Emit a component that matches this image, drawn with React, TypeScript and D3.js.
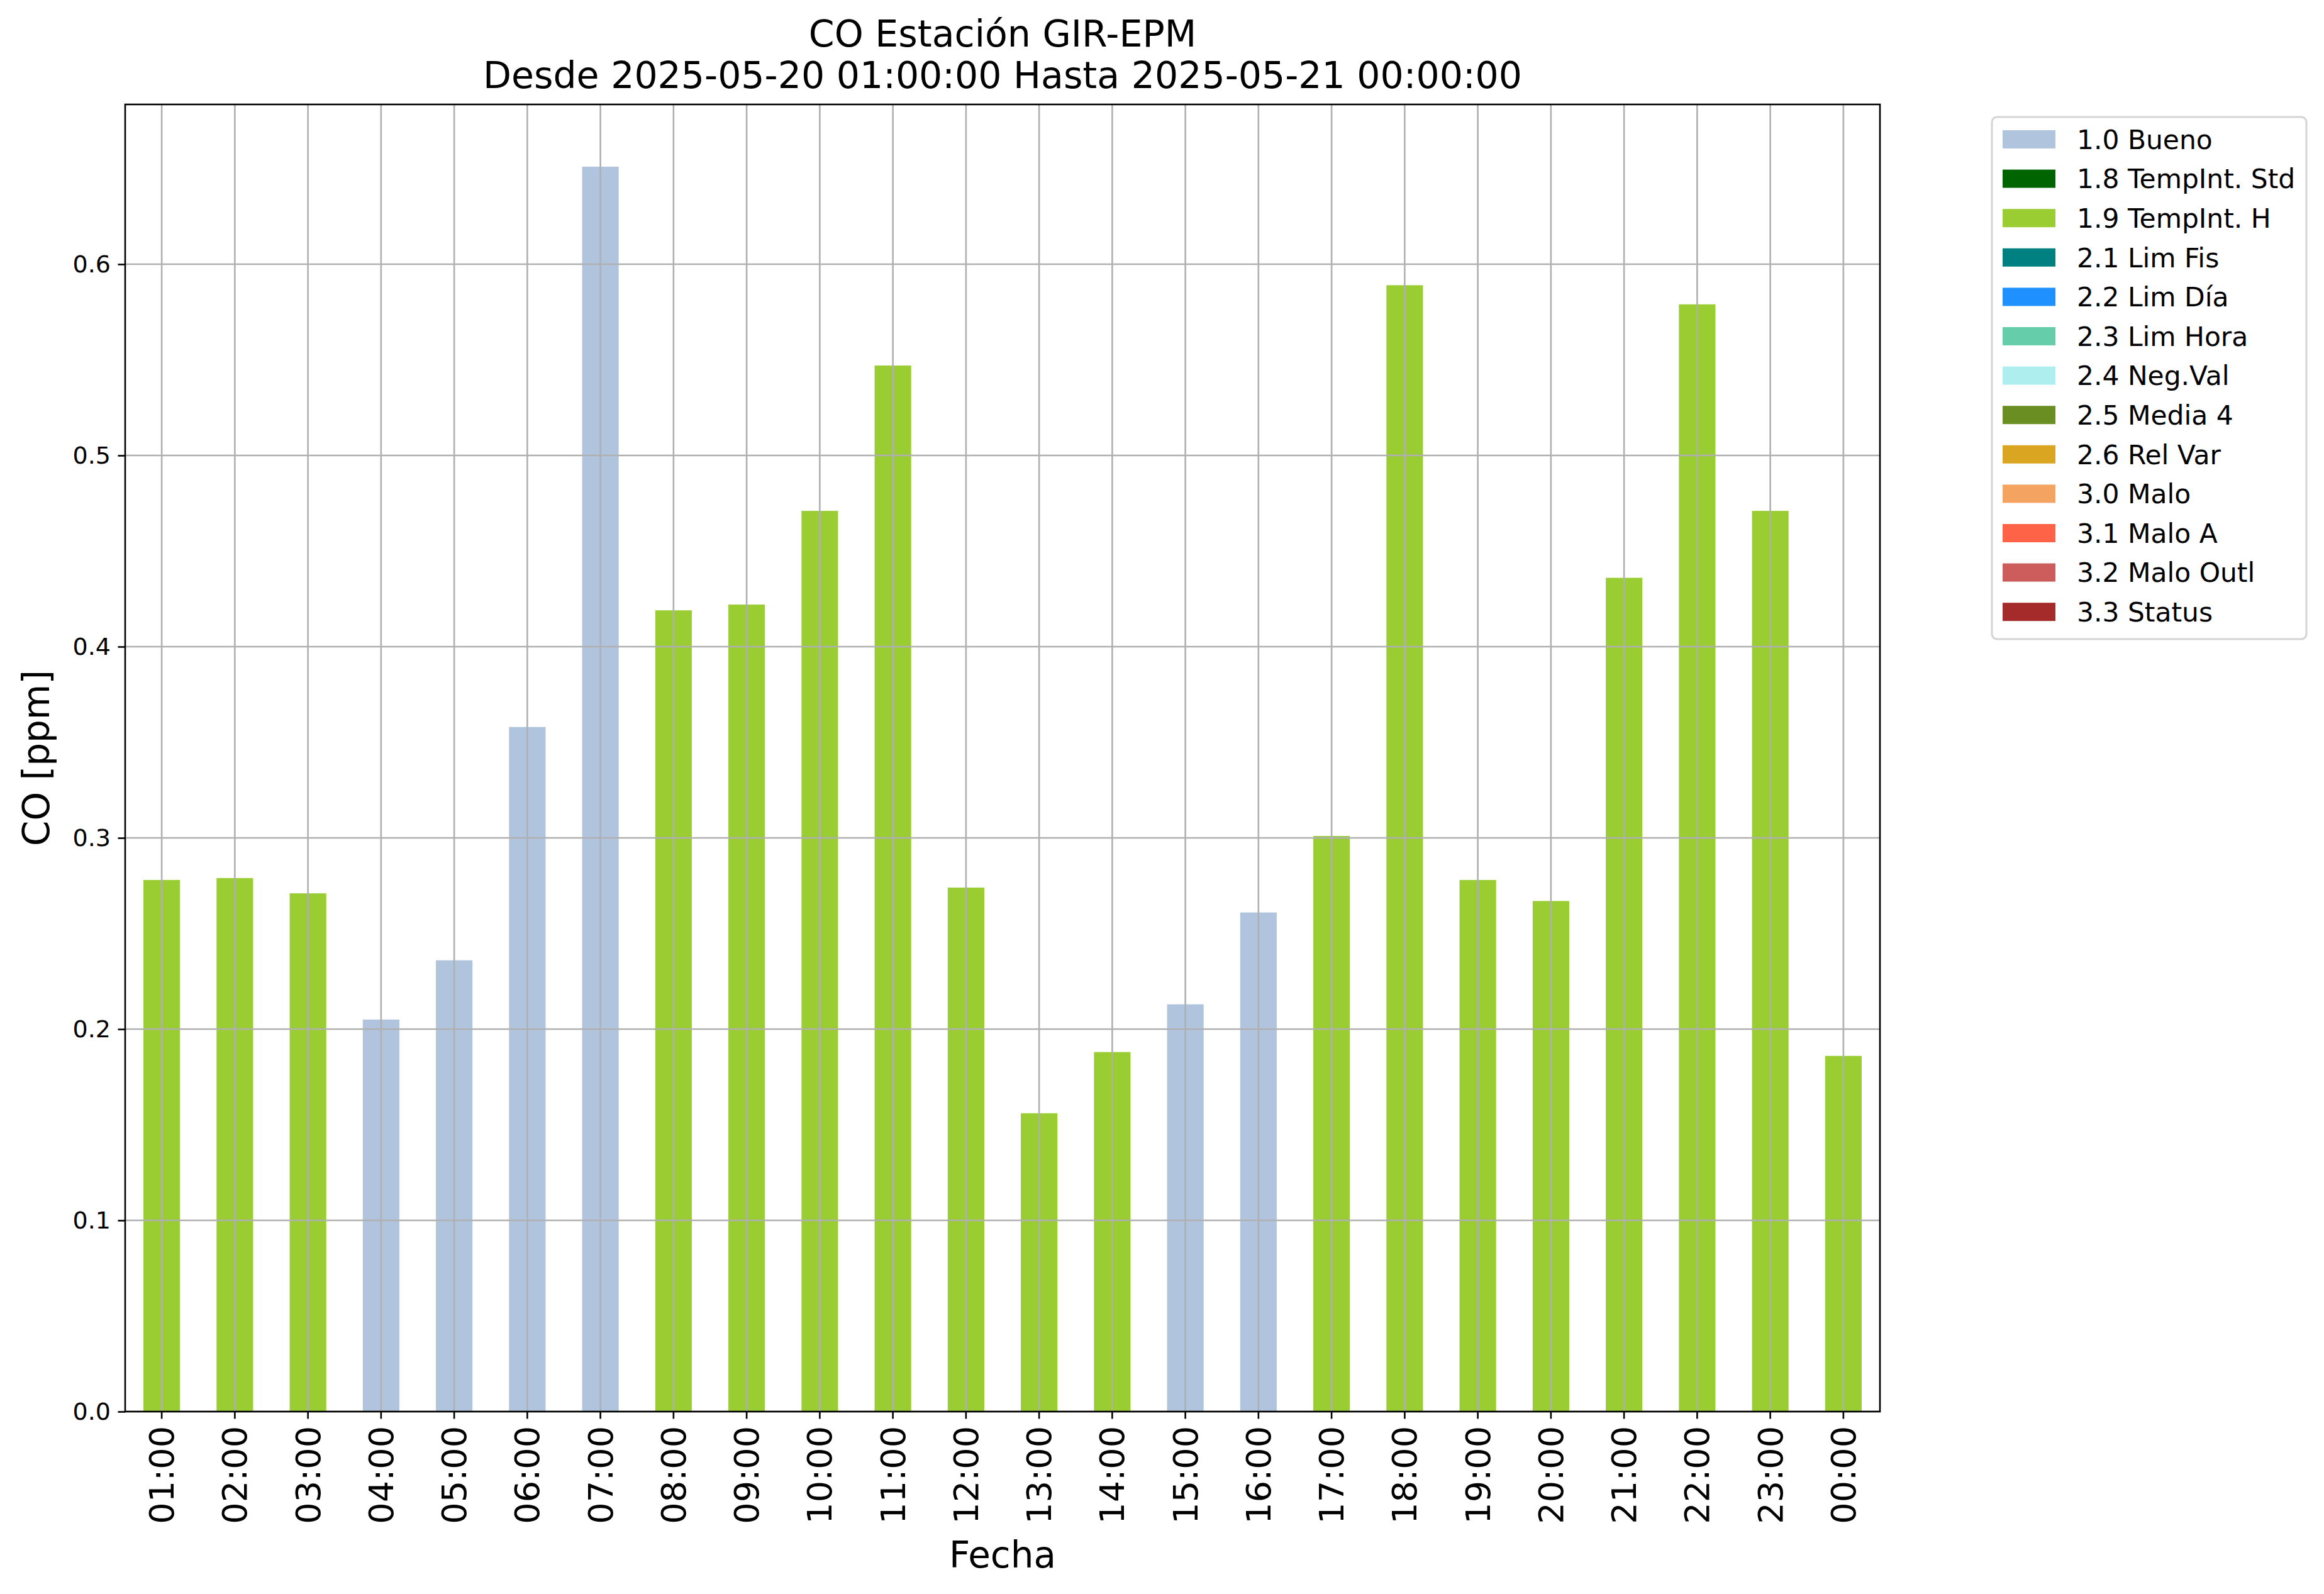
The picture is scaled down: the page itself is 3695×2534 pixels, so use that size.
import React, { useEffect, useRef } from 'react';
import * as d3 from 'd3';

const hours = ['01:00', '02:00', '03:00', '04:00', '05:00', '06:00', '07:00', '08:00', '09:00', '10:00', '11:00', '12:00',
  '13:00', '14:00', '15:00', '16:00', '17:00', '18:00', '19:00', '20:00', '21:00', '22:00', '23:00', '00:00'];
const coValues = [0.278, 0.279, 0.271, 0.205, 0.236, 0.358, 0.651, 0.419, 0.422, 0.471, 0.547, 0.274,
  0.156, 0.188, 0.213, 0.261, 0.301, 0.589, 0.278, 0.267, 0.436, 0.579, 0.471, 0.186];
const flags = ['1.9', '1.9', '1.9', '1.0', '1.0', '1.0', '1.0', '1.9', '1.9', '1.9', '1.9', '1.9',
  '1.9', '1.9', '1.0', '1.0', '1.9', '1.9', '1.9', '1.9', '1.9', '1.9', '1.9', '1.9'];
const flagCodes = ['1.0', '1.8', '1.9', '2.1', '2.2', '2.3', '2.4', '2.5', '2.6', '3.0', '3.1', '3.2', '3.3'];
const flagNames = ['1.0 Bueno', '1.8 TempInt. Std', '1.9 TempInt. H', '2.1 Lim Fis', '2.2 Lim Día', '2.3 Lim Hora',
  '2.4 Neg.Val', '2.5 Media 4', '2.6 Rel Var', '3.0 Malo', '3.1 Malo A', '3.2 Malo Outl', '3.3 Status'];
const flagColors = ['#b0c4de', '#006400', '#9acd32', '#008080', '#1e90ff', '#66cdaa', '#afeeee', '#6b8e23',
  '#daa520', '#f4a460', '#ff6347', '#cd5c5c', '#a52a2a'];
const yTicks = [0.0, 0.1, 0.2, 0.3, 0.4, 0.5, 0.6];

const W = 3695;
const H = 2534;

const App: React.FC = () => {
  const ref = useRef<SVGSVGElement | null>(null);

  useEffect(() => {
    document.body.style.margin = '0';
    const svg = d3.select(ref.current);
    svg.selectAll('*').remove();

    const left = 199, right = 2989, top = 166, bottom = 2244;
    const font = 'DejaVu Sans';

    const x = d3.scaleBand<string>().domain(hours).range([left, right]).paddingInner(0.5).paddingOuter(0.25);
    const ymax = d3.max(coValues)! * 1.05;
    const y = d3.scaleLinear().domain([0, ymax]).range([bottom, top]);
    const color = d3.scaleOrdinal<string, string>().domain(flagCodes).range(flagColors);
    const center = (h: string) => x(h)! + x.bandwidth() / 2;

    svg.append('rect').attr('width', W).attr('height', H).attr('fill', '#ffffff');

    // Bars
    svg.append('g')
      .selectAll('rect')
      .data(hours)
      .enter()
      .append('rect')
      .attr('x', d => x(d)!)
      .attr('width', x.bandwidth())
      .attr('y', (d, i) => y(coValues[i]))
      .attr('height', (d, i) => bottom - y(coValues[i]))
      .attr('fill', (d, i) => color(flags[i]));

    // Grid (drawn above bars, as in matplotlib)
    const grid = svg.append('g').attr('stroke', '#b0b0b0').attr('stroke-width', 2.6);
    hours.forEach(h => {
      grid.append('line').attr('x1', center(h)).attr('x2', center(h)).attr('y1', top).attr('y2', bottom);
    });
    yTicks.forEach(t => {
      grid.append('line').attr('x1', left).attr('x2', right).attr('y1', y(t)).attr('y2', y(t));
    });

    // Y axis
    const yAxis = svg.append('g')
      .attr('transform', `translate(${left},0)`)
      .call(d3.axisLeft(y).tickValues(yTicks).tickFormat(d3.format('.1f')).tickSize(11.5).tickPadding(11.5));
    yAxis.select('.domain').remove();
    yAxis.selectAll('line').attr('stroke', '#000').attr('stroke-width', 2.6);
    yAxis.selectAll('text').attr('font-family', font).attr('font-size', 38).attr('fill', '#000');

    // X axis
    const xAxis = svg.append('g')
      .attr('transform', `translate(0,${bottom})`)
      .call(d3.axisBottom(x).tickSize(11.5).tickSizeOuter(0));
    xAxis.select('.domain').remove();
    xAxis.selectAll('line').attr('stroke', '#000').attr('stroke-width', 2.6);
    xAxis.selectAll('text')
      .attr('font-family', font)
      .attr('font-size', 54)
      .attr('fill', '#000')
      .attr('transform', 'rotate(-90)')
      .attr('x', -23)
      .attr('y', 0)
      .attr('dy', '0.35em')
      .attr('text-anchor', 'end');

    // Spines
    svg.append('rect')
      .attr('x', left).attr('y', top)
      .attr('width', right - left).attr('height', bottom - top)
      .attr('fill', 'none').attr('stroke', '#000').attr('stroke-width', 2.6);

    // Titles and labels
    const mid = (left + right) / 2;
    svg.append('text').attr('x', mid).attr('y', 74).attr('text-anchor', 'middle')
      .attr('font-family', font).attr('font-size', 58.5).text('CO Estación GIR-EPM');
    svg.append('text').attr('x', mid).attr('y', 140).attr('text-anchor', 'middle')
      .attr('font-family', font).attr('font-size', 58.5).text('Desde 2025-05-20 01:00:00 Hasta 2025-05-21 00:00:00');
    svg.append('text').attr('x', mid).attr('y', 2492).attr('text-anchor', 'middle')
      .attr('font-family', font).attr('font-size', 58).text('Fecha');
    svg.append('text')
      .attr('transform', `translate(78,${(top + bottom) / 2}) rotate(-90)`)
      .attr('text-anchor', 'middle')
      .attr('font-family', font).attr('font-size', 58).text('CO [ppm]');

    // Legend
    const lx = 3167, ly = 186, rowH = 62.6, lfs = 42.4;
    const legend = svg.append('g');
    legend.append('rect')
      .attr('x', lx).attr('y', ly).attr('width', 500).attr('height', 830)
      .attr('rx', 8).attr('fill', '#fff').attr('stroke', '#d4d4d4').attr('stroke-width', 3);
    flagNames.forEach((name, i) => {
      const cy = 221.5 + i * rowH;
      legend.append('rect').attr('x', 3184).attr('y', cy - 14.5).attr('width', 84).attr('height', 29)
        .attr('fill', flagColors[i]);
      legend.append('text').attr('x', 3302).attr('y', cy).attr('dy', '0.36em')
        .attr('font-family', font).attr('font-size', lfs).text(name);
    });
  }, []);

  return <svg ref={ref} width={W} height={H} style={{ display: 'block' }} />;
};

export default App;
